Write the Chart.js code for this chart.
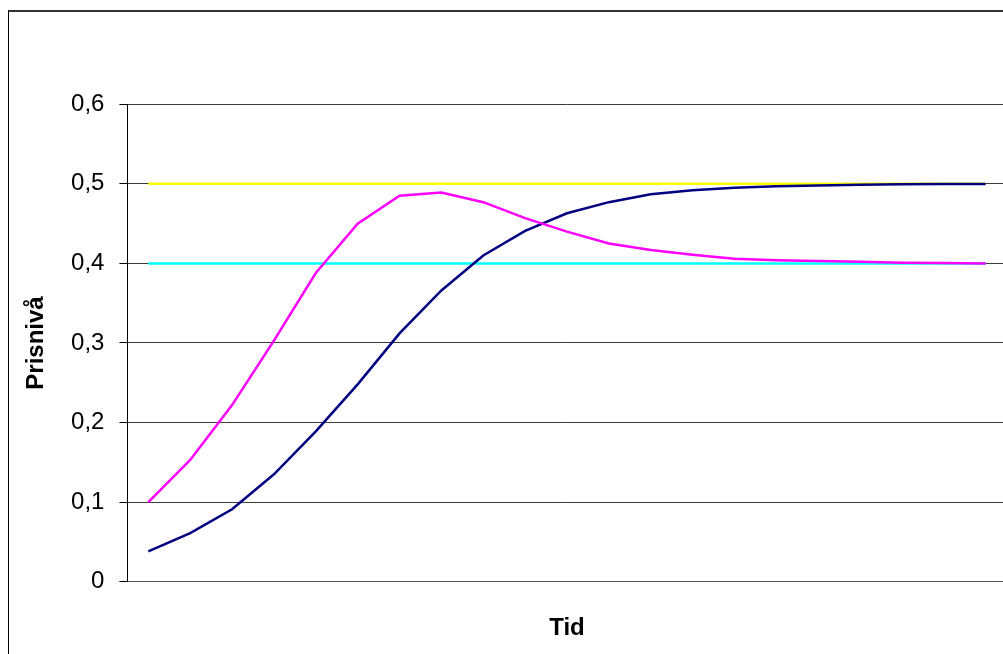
<!DOCTYPE html>
<html>
<head>
<meta charset="utf-8">
<script src="https://cdn.jsdelivr.net/npm/chart.js@4/dist/chart.umd.min.js"></script>
<style>
  html, body { margin: 0; padding: 0; background: #fff; overflow: hidden; width: 1003px; height: 654px; }
  #frame { position: absolute; left: 8px; top: 10px; width: 2000px; height: 2000px;
           border-top: 2px solid #333; border-left: 1px solid #000; pointer-events: none; }
  #c { position: absolute; left: 0; top: 0; }
</style>
</head>
<body>
<div id="frame"></div>
<canvas id="c" width="1020" height="654"></canvas>
<script>
// Time periods along the horizontal axis (no labels are shown)
const periods = [1, 2, 3, 4, 5, 6, 7, 8, 9, 10, 11, 12, 13, 14, 15, 16, 17, 18, 19, 20, 21];

// Price level paths
const prisA = [0.100, 0.153, 0.222, 0.303, 0.388, 0.450, 0.485, 0.489, 0.477, 0.457, 0.440,
               0.425, 0.417, 0.411, 0.406, 0.404, 0.403, 0.402, 0.401, 0.4005, 0.400];
const prisB = [0.038, 0.061, 0.091, 0.135, 0.189, 0.248, 0.312, 0.366, 0.410, 0.441, 0.463,
               0.477, 0.487, 0.492, 0.495, 0.497, 0.498, 0.499, 0.4995, 0.4998, 0.4999];
const nivaHog = [0.5, 0.5, 0.5, 0.5, 0.5, 0.5, 0.5, 0.5, 0.5, 0.5, 0.5,
                 0.5, 0.5, 0.5, 0.5, 0.5, 0.5, 0.5, 0.5, 0.5, 0.5];
const nivaLag = [0.4, 0.4, 0.4, 0.4, 0.4, 0.4, 0.4, 0.4, 0.4, 0.4, 0.4,
                 0.4, 0.4, 0.4, 0.4, 0.4, 0.4, 0.4, 0.4, 0.4, 0.4];

// Y tick labels (Swedish decimal comma)
const yTickLabels = ['0', '0,1', '0,2', '0,3', '0,4', '0,5', '0,6'];

const FONT = "'Liberation Sans', Arial, sans-serif";

function line(data, color, order) {
  return {
    data: data,
    borderColor: color,
    backgroundColor: color,
    borderWidth: 2.5,
    pointRadius: 0,
    pointHoverRadius: 0,
    tension: 0,
    fill: false,
    order: order
  };
}

new Chart(document.getElementById('c'), {
  type: 'line',
  data: {
    labels: periods,
    datasets: [
      line(prisA, '#FF00FF', 0),
      line(prisB, '#000080', 0),
      line(nivaHog, '#FFFF00', 1),
      line(nivaLag, '#00FFFF', 1)
    ]
  },
  options: {
    responsive: false,
    devicePixelRatio: 1,
    animation: false,
    events: [],
    layout: { padding: { left: 0, top: 104.3, right: 13.4, bottom: 0 } },
    plugins: { legend: { display: false }, tooltip: { enabled: false } },
    scales: {
      x: {
        type: 'category',
        offset: true,
        grid: { display: false },
        border: { display: true, color: '#555', width: 1 },
        ticks: { display: false },
        title: {
          display: true,
          text: 'Tid',
          color: '#000',
          font: { family: FONT, size: 24, weight: 'bold' },
          padding: { top: 0, bottom: 11.5 }
        },
        afterFit: function (s) { s.height = 72.3; }
      },
      y: {
        min: 0,
        max: 0.6,
        ticks: {
          stepSize: 0.1,
          color: '#000',
          padding: 15,
          font: { family: FONT, size: 24 },
          callback: function (v, i) { return yTickLabels[i]; }
        },
        grid: { color: '#3c3c3c', lineWidth: 1, drawTicks: true, tickLength: 8, tickColor: '#000' },
        border: { display: true, color: '#000', width: 1 },
        title: {
          display: true,
          text: 'Prisnivå',
          color: '#000',
          font: { family: FONT, size: 24, weight: 'bold' },
          padding: { top: 21.6, bottom: 0 }
        },
        afterFit: function (s) { s.width = 127.4; }
      }
    }
  }
});
</script>
</body>
</html>
